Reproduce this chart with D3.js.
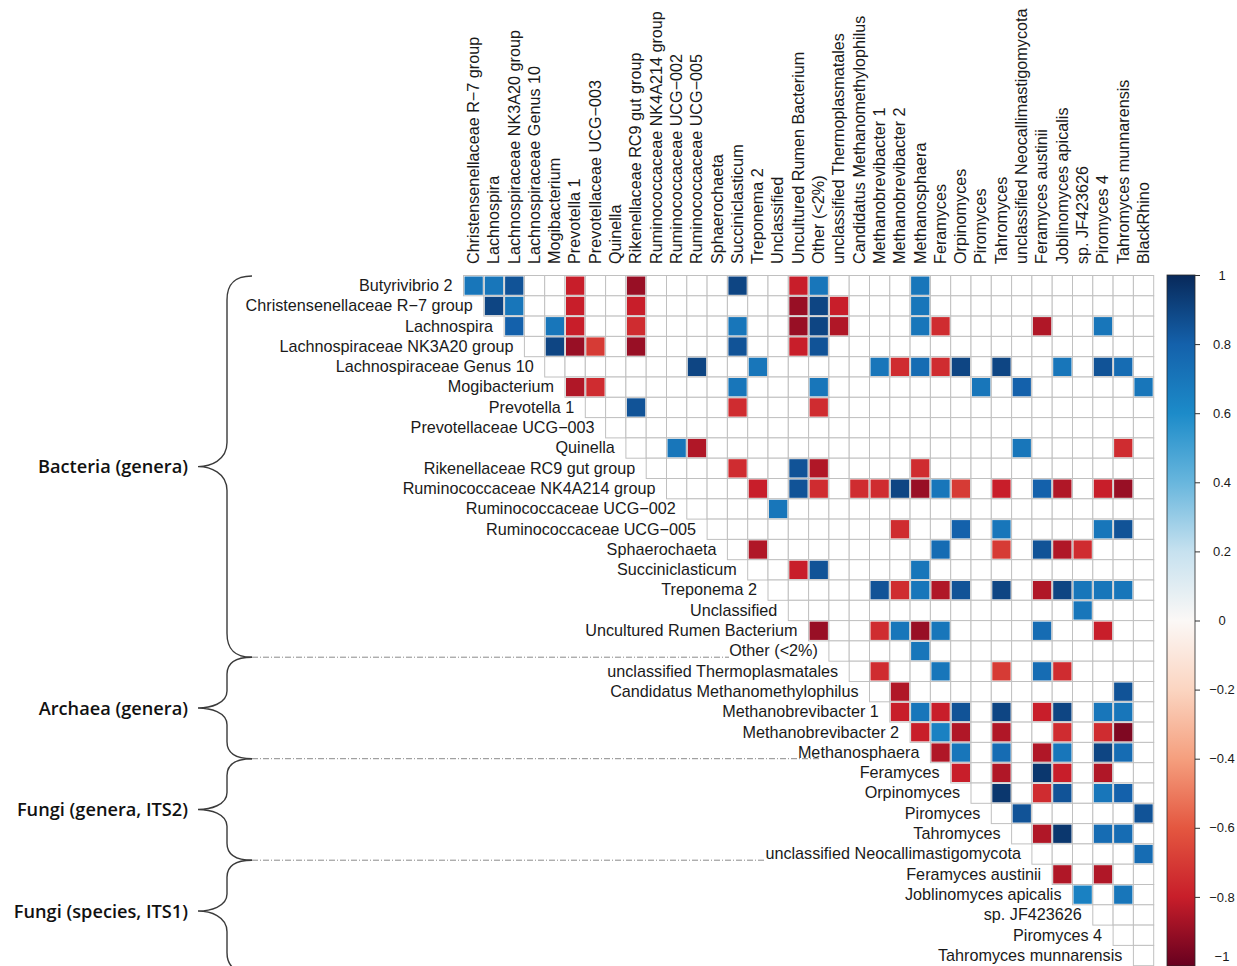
<!DOCTYPE html>
<html>
<head>
<meta charset="utf-8">
<script src="https://cdn.jsdelivr.net/npm/d3@7"></script>
<style>
  html, body { margin: 0; padding: 0; background: #ffffff; }
  svg { display: block; }
</style>
</head>
<body>
<svg id="chart" width="1237" height="966"></svg>
<script>
// Taxa on the rows (left labels) and on the columns (top labels)
const rowTaxa = [
  "Butyrivibrio 2", "Christensenellaceae R\u22127 group", "Lachnospira",
  "Lachnospiraceae NK3A20 group", "Lachnospiraceae Genus 10", "Mogibacterium",
  "Prevotella 1", "Prevotellaceae UCG\u2212003", "Quinella",
  "Rikenellaceae RC9 gut group", "Ruminococcaceae NK4A214 group",
  "Ruminococcaceae UCG\u2212002", "Ruminococcaceae UCG\u2212005", "Sphaerochaeta",
  "Succiniclasticum", "Treponema 2", "Unclassified", "Uncultured Rumen Bacterium",
  "Other (<2%)", "unclassified Thermoplasmatales", "Candidatus Methanomethylophilus",
  "Methanobrevibacter 1", "Methanobrevibacter 2", "Methanosphaera", "Feramyces",
  "Orpinomyces", "Piromyces", "Tahromyces", "unclassified Neocallimastigomycota",
  "Feramyces austinii", "Joblinomyces apicalis", "sp. JF423626", "Piromyces 4",
  "Tahromyces munnarensis"
];
const colTaxa = [
  "Christensenellaceae R\u22127 group", "Lachnospira", "Lachnospiraceae NK3A20 group",
  "Lachnospiraceae Genus 10", "Mogibacterium", "Prevotella 1",
  "Prevotellaceae UCG\u2212003", "Quinella", "Rikenellaceae RC9 gut group",
  "Ruminococcaceae NK4A214 group", "Ruminococcaceae UCG\u2212002",
  "Ruminococcaceae UCG\u2212005", "Sphaerochaeta", "Succiniclasticum", "Treponema 2",
  "Unclassified", "Uncultured Rumen Bacterium", "Other (<2%)",
  "unclassified Thermoplasmatales", "Candidatus Methanomethylophilus",
  "Methanobrevibacter 1", "Methanobrevibacter 2", "Methanosphaera", "Feramyces",
  "Orpinomyces", "Piromyces", "Tahromyces", "unclassified Neocallimastigomycota",
  "Feramyces austinii", "Joblinomyces apicalis", "sp. JF423626", "Piromyces 4",
  "Tahromyces munnarensis", "BlackRhino"
];

// Significant correlations per row: [column number (1-based), r]
const corrByRow = [
  [[1,0.7],[2,0.7],[3,0.85],[6,-0.8],[9,-0.9],[14,0.9],[17,-0.8],[18,0.7],[23,0.7]],
  [[2,0.9],[3,0.7],[6,-0.8],[9,-0.8],[17,-0.9],[18,0.9],[19,-0.8],[23,0.7]],
  [[3,0.8],[5,0.7],[6,-0.8],[9,-0.75],[14,0.7],[17,-0.9],[18,0.9],[19,-0.85],[23,0.7],[24,-0.75],[29,-0.85],[32,0.7]],
  [[5,0.9],[6,-0.9],[7,-0.7],[9,-0.9],[14,0.85],[17,-0.8],[18,0.85]],
  [[12,0.9],[15,0.7],[21,0.7],[22,-0.75],[23,0.75],[24,-0.75],[25,0.9],[27,0.9],[30,0.7],[32,0.85],[33,0.75]],
  [[6,-0.85],[7,-0.75],[14,0.7],[18,0.7],[26,0.7],[28,0.8],[34,0.7]],
  [[9,0.85],[14,-0.75],[18,-0.75]],
  [],
  [[11,0.7],[12,-0.85],[28,0.7],[33,-0.75]],
  [[14,-0.75],[17,0.85],[18,-0.85],[23,-0.75]],
  [[15,-0.8],[17,0.85],[18,-0.75],[20,-0.75],[21,-0.75],[22,0.9],[23,-0.9],[24,0.7],[25,-0.7],[27,-0.8],[29,0.8],[30,-0.85],[32,-0.8],[33,-0.9]],
  [[16,0.7]],
  [[22,-0.75],[25,0.8],[27,0.7],[32,0.7],[33,0.85]],
  [[15,-0.85],[24,0.75],[27,-0.7],[29,0.85],[30,-0.85],[31,-0.75]],
  [[17,-0.8],[18,0.85],[23,0.7]],
  [[21,0.85],[22,-0.75],[23,0.7],[24,-0.85],[25,0.85],[27,0.9],[29,-0.85],[30,0.9],[31,0.7],[32,0.7],[33,0.7]],
  [[31,0.7]],
  [[18,-0.9],[21,-0.75],[22,0.7],[23,-0.9],[24,0.7],[29,0.75],[32,-0.8]],
  [[23,0.7]],
  [[21,-0.75],[24,0.7],[27,-0.7],[29,0.75],[30,-0.75]],
  [[22,-0.85],[33,0.85]],
  [[22,-0.8],[23,0.7],[24,-0.8],[25,0.85],[27,0.9],[29,-0.8],[30,0.9],[32,0.7],[33,0.7]],
  [[23,-0.8],[24,0.65],[25,-0.85],[27,-0.85],[30,-0.75],[32,-0.75],[33,-0.95]],
  [[24,-0.85],[25,0.7],[27,0.75],[29,-0.85],[30,0.7],[32,0.9],[33,0.75]],
  [[25,-0.8],[27,-0.85],[29,0.95],[30,-0.8],[32,-0.85]],
  [[27,0.95],[29,-0.75],[30,0.85],[32,0.7],[33,0.8]],
  [[28,0.85],[34,0.85]],
  [[29,-0.85],[30,0.95],[32,0.75],[33,0.75]],
  [[34,0.75]],
  [[30,-0.85],[32,-0.85]],
  [[31,0.65],[33,0.7]],
  [],
  [],
  []
];

// Taxonomic groups bracketing the rows (first and last row, 0-based)
const groupNames = ["Bacteria (genera)", "Archaea (genera)", "Fungi (genera, ITS2)", "Fungi (species, ITS1)"];
const groupFirstRow = [0, 19, 24, 29];
const groupLastRow = [18, 23, 28, 33];

// Colour key
const legendTicks = [1, 0.8, 0.6, 0.4, 0.2, 0, -0.2, -0.4, -0.6, -0.8, -1];
const legendColors = ["#08295a", "#1461ab", "#1c8bc9", "#68b6dd", "#c6e1ef", "#fbf8f6",
                      "#fbd5c1", "#f59f7e", "#e45740", "#c81e2a", "#67001f"];

const svg = d3.select("#chart");
const FONT = "'Liberation Sans', Arial, Helvetica, sans-serif";

const x = d3.scaleBand().domain(colTaxa).range([463, 1153.2]).paddingInner(0).paddingOuter(0);
const y = d3.scaleBand().domain(rowTaxa).range([275, 965.2]).paddingInner(0).paddingOuter(0);
const color = d3.scaleLinear().domain(legendTicks).range(legendColors).clamp(true);
const bw = x.bandwidth(), bh = y.bandwidth();

// Upper-triangle cells (grid)
const cells = [];
rowTaxa.forEach((r, i) => {
  for (let j = i; j < colTaxa.length; j++) cells.push({ r, c: colTaxa[j] });
});
svg.append("g").selectAll("rect").data(cells).join("rect")
  .attr("x", d => x(d.c) + 0.5)
  .attr("y", d => y(d.r) + 0.5)
  .attr("width", bw)
  .attr("height", bh)
  .attr("fill", "#ffffff")
  .attr("stroke", "#c0c0c0")
  .attr("stroke-width", 1);

// Coloured correlation squares
const marks = [];
corrByRow.forEach((list, i) => list.forEach(([cn, v]) => marks.push({ r: rowTaxa[i], c: colTaxa[cn - 1], v })));
svg.append("g").selectAll("rect").data(marks).join("rect")
  .attr("x", d => x(d.c) + 1.5)
  .attr("y", d => y(d.r) + 1.5)
  .attr("width", bw - 2)
  .attr("height", bh - 2)
  .attr("fill", d => color(d.v));

// Row labels, right aligned just before each row's first cell
svg.append("g").selectAll("text").data(rowTaxa).join("text")
  .attr("x", (d, i) => x(colTaxa[i]) - 10.5)
  .attr("y", d => y(d) + bh / 2)
  .attr("dy", "0.36em")
  .attr("text-anchor", "end")
  .attr("font-family", FONT)
  .attr("font-size", 16.2)
  .attr("fill", "#1a1a1a")
  .text(d => d);

// Column labels, rotated
svg.append("g").selectAll("text").data(colTaxa).join("text")
  .attr("transform", d => `translate(${x(d) + bw / 2},264) rotate(-90)`)
  .attr("dy", "0.36em")
  .attr("text-anchor", "start")
  .attr("font-family", FONT)
  .attr("font-size", 16.2)
  .attr("fill", "#1a1a1a")
  .text(d => d);

// Dashed separators between groups
const sepEnds = [729, 821, 764];
const gSep = svg.append("g");
groupLastRow.slice(0, 3).forEach((lr, k) => {
  const yy = y(rowTaxa[lr]) + bh - 3.5;
  gSep.append("line")
    .attr("x1", 252).attr("x2", sepEnds[k])
    .attr("y1", yy).attr("y2", yy)
    .attr("stroke", "#8a8a8a").attr("stroke-width", 1)
    .attr("stroke-dasharray", "6,2,1,2");
});

// Curly braces and group names
const gBr = svg.append("g");
groupNames.forEach((name, k) => {
  const y0 = y(rowTaxa[groupFirstRow[k]]) + (k === 0 ? 1 : -3.5);
  const y1 = y(rowTaxa[groupLastRow[k]]) + bh + (k === 3 ? 8 : -3.5);
  const ym = k === 3 ? 911 : (y0 + y1) / 2;
  const xe = 252, xs = 227, xt = 198;
  const r1 = Math.min(24, (ym - y0) / 3);
  const r2 = Math.min(24, (y1 - ym) / 3);
  const p = `M${xe},${y0} C${xs + 6},${y0} ${xs},${y0 + r1 * 0.4} ${xs},${y0 + r1}` +
            ` L${xs},${ym - r1}` +
            ` C${xs},${ym - r1 * 0.25} ${xt + 12},${ym} ${xt},${ym}` +
            ` C${xt + 12},${ym} ${xs},${ym + r2 * 0.25} ${xs},${ym + r2}` +
            ` L${xs},${y1 - r2}` +
            ` C${xs},${y1 - r2 * 0.4} ${xs + 6},${y1} ${xe},${y1}`;
  gBr.append("path").attr("d", p)
    .attr("fill", "none").attr("stroke", "#3a3a3a").attr("stroke-width", 1.4);
  gBr.append("text")
    .attr("x", 188).attr("y", ym)
    .attr("dy", "0.36em")
    .attr("text-anchor", "end")
    .attr("font-family", "'Open Sans', Lato, sans-serif")
    .attr("font-weight", 600)
    .attr("font-size", 18.2)
    .attr("fill", "#111")
    .text(name);
});

// Colour bar
const defs = svg.append("defs");
const grad = defs.append("linearGradient").attr("id", "corrGrad")
  .attr("x1", 0).attr("y1", 0).attr("x2", 0).attr("y2", 1);
grad.selectAll("stop").data(legendTicks).join("stop")
  .attr("offset", (d, i) => i / (legendTicks.length - 1))
  .attr("stop-color", d => color(d));

const ly = d3.scaleLinear().domain([-1, 1]).range([966, 275]);
svg.append("rect")
  .attr("x", 1167).attr("y", ly(1))
  .attr("width", 28).attr("height", ly(-1) - ly(1))
  .attr("fill", "url(#corrGrad)")
  .attr("stroke", "#2a2a2a").attr("stroke-width", 0.8);

const axis = d3.axisRight(ly).tickValues(legendTicks).tickSize(5)
  .tickFormat(d => d3.format("")(d).replace("-", "\u2212"));
const gAxis = svg.append("g").attr("transform", "translate(1195,0)").call(axis);
gAxis.select(".domain").remove();
gAxis.selectAll(".tick line").attr("stroke", "#333");
gAxis.selectAll(".tick text")
  .attr("x", 27)
  .attr("text-anchor", "middle")
  .attr("font-family", FONT)
  .attr("font-size", 13)
  .attr("fill", "#1a1a1a");
gAxis.selectAll(".tick").filter(d => d === -1).select("text").attr("dy", "-0.45em");
</script>
</body>
</html>
